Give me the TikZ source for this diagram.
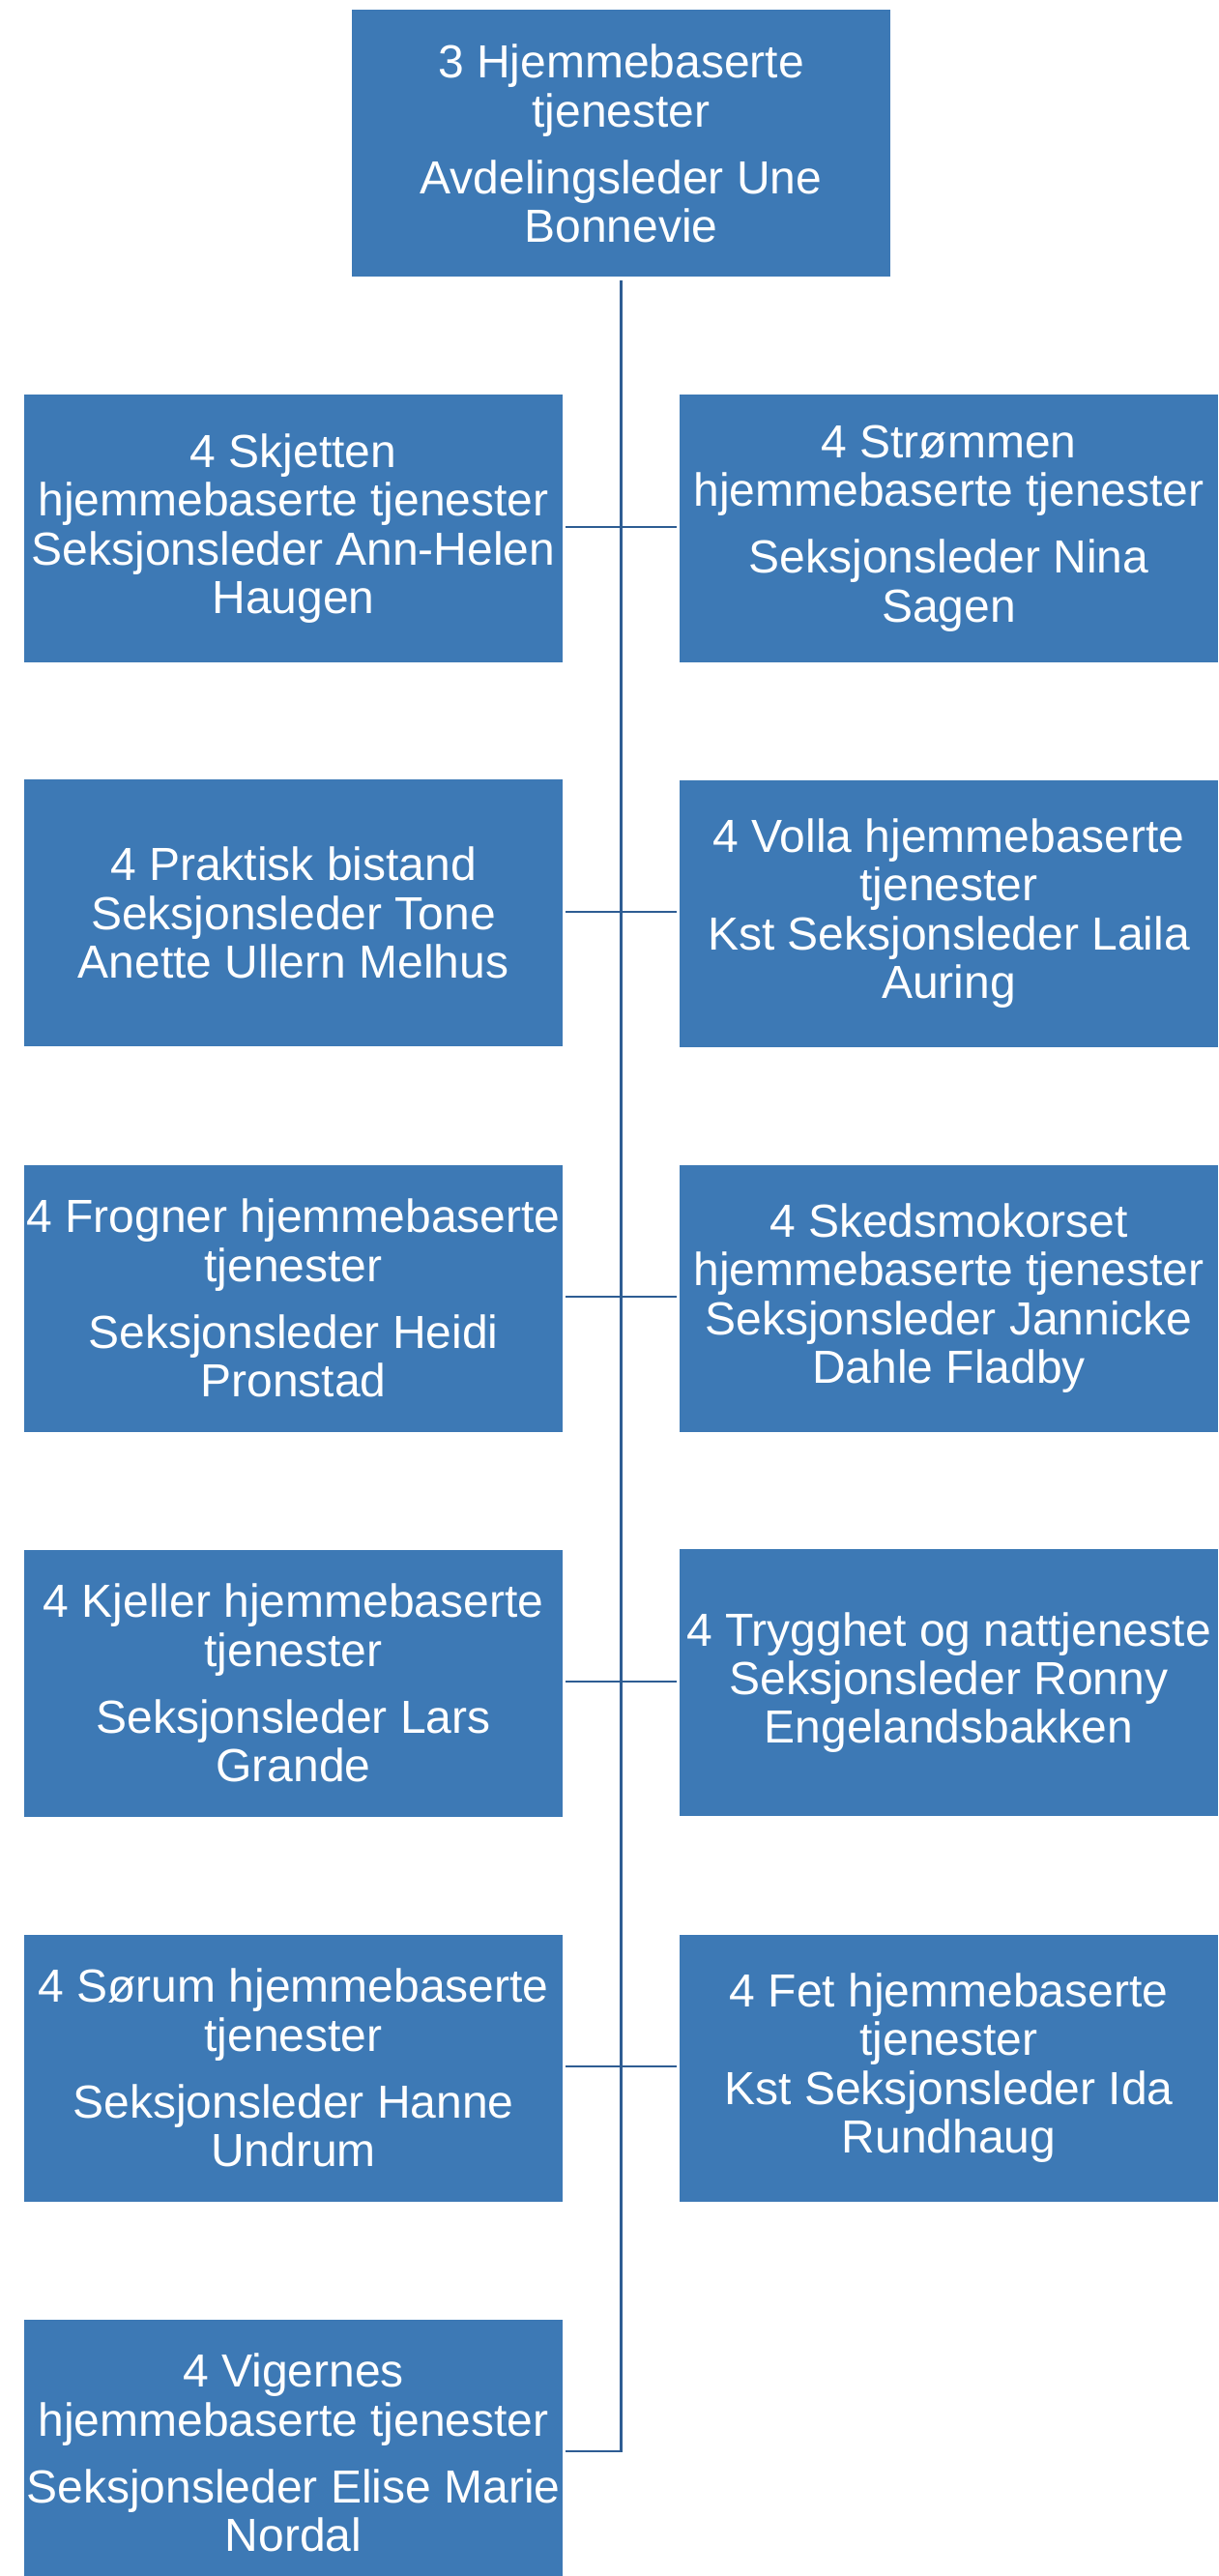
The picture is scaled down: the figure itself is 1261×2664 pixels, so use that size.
\documentclass[tikz,border=0pt]{standalone}
\usepackage{fontspec}
\setmainfont{Liberation Sans}
\definecolor{boxfill}{HTML}{3D79B5}
\definecolor{linecol}{HTML}{2E5D93}
\begin{document}
\begin{tikzpicture}[x=0.5pt,y=-0.5pt,
  orgbox/.style={rectangle, fill=boxfill, draw=none, text=white, inner sep=0pt,
    minimum width=278.5pt, minimum height=138pt, align=center,
    font=\fontsize{24}{25.1}\selectfont},
  conn/.style={draw=linecol, line width=1.35pt, shorten <=1.5pt, shorten >=1.5pt}]
\clip (0,0) rectangle (1261,2664);
\fill[white] (0,0) rectangle (1261,2664);
\node[orgbox] (top) at (642.5,148.5) {3 Hjemmebaserte\\tjenester\\[9.5pt]Avdelingsleder Une\\Bonnevie};
\node[orgbox] (L1) at (303.5,546.5) {4 Skjetten\\hjemmebaserte tjenester\\Seksjonsleder Ann-Helen\\Haugen};
\node[orgbox] (R1) at (981.5,546.5) {4 Strømmen\\hjemmebaserte tjenester\\[9.5pt]Seksjonsleder Nina\\Sagen};
\node[orgbox] (L2) at (303.5,944) {4 Praktisk bistand\\Seksjonsleder Tone\\Anette Ullern Melhus};
\node[orgbox] (R2) at (981.5,944.5) {4 Volla hjemmebaserte\\tjenester\\Kst Seksjonsleder Laila\\Auring};
\node[orgbox] (L3) at (303.5,1342.5) {4 Frogner hjemmebaserte\\tjenester\\[9.5pt]Seksjonsleder Heidi\\Pronstad};
\node[orgbox] (R3) at (981.5,1342.5) {4 Skedsmokorset\\hjemmebaserte tjenester\\Seksjonsleder Jannicke\\Dahle Fladby};
\node[orgbox] (L4) at (303.5,1740.5) {4 Kjeller hjemmebaserte\\tjenester\\[9.5pt]Seksjonsleder Lars\\Grande};
\node[orgbox] (R4) at (981.5,1740) {4 Trygghet og nattjeneste\\Seksjonsleder Ronny\\Engelandsbakken};
\node[orgbox] (L5) at (303.5,2138.5) {4 Sørum hjemmebaserte\\tjenester\\[9.5pt]Seksjonsleder Hanne\\Undrum};
\node[orgbox] (R5) at (981.5,2138.5) {4 Fet hjemmebaserte\\tjenester\\Kst Seksjonsleder Ida\\Rundhaug};
\node[orgbox] (L6) at (303.5,2536.5) {4 Vigernes\\hjemmebaserte tjenester\\[9.5pt]Seksjonsleder Elise Marie\\Nordal};
\coordinate (bend) at (642.5,2535);
\draw[conn] (top.south) -- (bend) -- (L6.east |- bend);
\draw[conn] (L1.east |- 0,545) -- (R1.west |- 0,545);
\draw[conn] (L2.east |- 0,943) -- (R2.west |- 0,943);
\draw[conn] (L3.east |- 0,1341) -- (R3.west |- 0,1341);
\draw[conn] (L4.east |- 0,1739) -- (R4.west |- 0,1739);
\draw[conn] (L5.east |- 0,2137) -- (R5.west |- 0,2137);
\end{tikzpicture}
\end{document}
